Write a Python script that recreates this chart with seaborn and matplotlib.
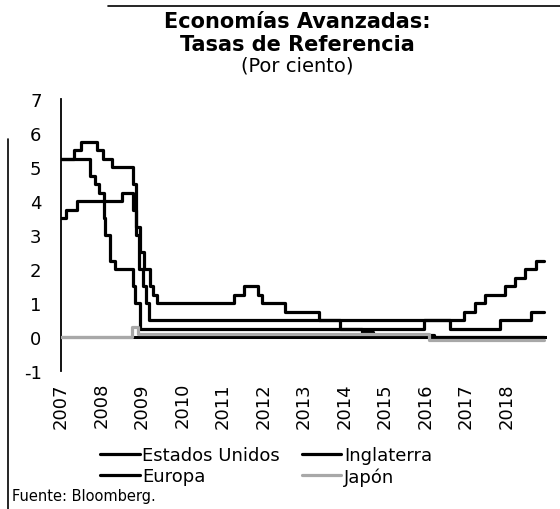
import numpy as np
import pandas as pd
import matplotlib
matplotlib.use('Agg')
import matplotlib.pyplot as plt
from matplotlib.lines import Line2D
import seaborn as sns

# =====================
# Data (step series, decimal years)
# =====================
fin = 2018.92

eu_t = [2007.0, 2007.71, 2007.83, 2007.95, 2008.06, 2008.08, 2008.21, 2008.33,
        2008.77, 2008.83, 2008.96, 2015.96, 2016.96, 2017.21, 2017.46, 2017.96,
        2018.22, 2018.46, 2018.74, fin]
eu_v = [5.25, 4.75, 4.5, 4.25, 3.5, 3.0, 2.25, 2.0,
        1.5, 1.0, 0.25, 0.5, 0.75, 1.0, 1.25, 1.5,
        1.75, 2.0, 2.25, 2.25]

ing_t = [2007.0, 2007.32, 2007.5, 2007.9, 2008.03, 2008.27, 2008.77, 2008.85,
         2008.93, 2009.03, 2009.1, 2009.18, 2016.6, 2017.84, 2018.6, fin]
ing_v = [5.25, 5.5, 5.75, 5.5, 5.25, 5.0, 4.5, 3.0,
         2.0, 1.5, 1.0, 0.5, 0.25, 0.5, 0.75, 0.75]

eur_t = [2007.0, 2007.12, 2007.4, 2008.5, 2008.78, 2008.85, 2008.94, 2009.05,
         2009.2, 2009.27, 2009.36, 2011.26, 2011.52, 2011.86, 2011.96, 2012.53,
         2013.37, 2013.89, 2014.43, 2014.7, 2016.2, fin]
eur_v = [3.5, 3.75, 4.0, 4.25, 3.75, 3.25, 2.5, 2.0,
         1.5, 1.25, 1.0, 1.25, 1.5, 1.25, 1.0, 0.75,
         0.5, 0.25, 0.15, 0.05, 0.0, 0.0]

jap_t = [2007.0, 2008.76, 2008.9, 2016.08, fin]
jap_v = [0.0, 0.3, 0.1, -0.1, -0.1]

years = list(range(2007, 2019))
yticks = list(range(-1, 8))

# =====================
# Figure
# =====================
sns.set_style('white')
plt.rcParams['font.family'] = ['DejaVu Sans']
plt.rcParams['text.color'] = 'black'
plt.rcParams['xtick.color'] = 'black'
plt.rcParams['ytick.color'] = 'black'
plt.rcParams['axes.labelcolor'] = 'black'

fig = plt.figure(figsize=(5.6, 5.1), dpi=100)
ax = fig.add_axes([61/560, 1 - 372/510, 486/560, 272/510])

ax.axhline(0, color='black', lw=2.2, zorder=1)

series = [
    ('Estados Unidos', eu_t, eu_v, 'black'),
    ('Inglaterra', ing_t, ing_v, 'black'),
    ('Europa', eur_t, eur_v, 'black'),
    ('Japón', jap_t, jap_v, '#a8a8a8'),
]
for name, t, v, c in series:
    sns.lineplot(x=t, y=v, ax=ax, color=c, lw=2.3, drawstyle='steps-post',
                 estimator=None, sort=False, zorder=3 if name == 'Japón' else 2)

ax.set_xlim(2007, 2019)
ax.set_ylim(-1, 7)
ax.set_xticks(years)
ax.set_xticklabels([str(y) for y in years], rotation=90, fontsize=13)
ax.set_yticks(yticks)
ax.set_yticklabels([str(y) for y in yticks], fontsize=13)
ax.tick_params(axis='y', direction='in', length=5, width=1.2, color='black', pad=14)
ax.tick_params(axis='x', length=0, pad=8)
for s in ['top', 'right', 'bottom']:
    ax.spines[s].set_visible(False)
ax.spines['left'].set_color('black')
ax.spines['left'].set_linewidth(1.3)
ax.set_xlabel('')
ax.set_ylabel('')

# Titles
fig.text(297/560, 1 - 22/510, 'Economías Avanzadas:', ha='center', va='center',
         fontsize=15, fontweight='bold')
fig.text(297/560, 1 - 45/510, 'Tasas de Referencia', ha='center', va='center',
         fontsize=15, fontweight='bold')
fig.text(297/560, 1 - 66/510, '(Por ciento)', ha='center', va='center', fontsize=14)

# Legend
h = [Line2D([], [], color='black', lw=2.3),
     Line2D([], [], color='black', lw=2.3),
     Line2D([], [], color='black', lw=2.3),
     Line2D([], [], color='#a8a8a8', lw=2.3)]
lab = ['Estados Unidos', 'Europa', 'Inglaterra', 'Japón']
fig.legend(h, lab, ncol=2, loc='center', bbox_to_anchor=(266/560, 1 - 467/510),
           frameon=False, fontsize=13, handlelength=2.2, handletextpad=0.15,
           columnspacing=1.2, labelspacing=0.15)

fig.text(12/560, 1 - 497/510, 'Fuente: Bloomberg.', ha='left', va='center', fontsize=10.5)

# scan frame lines
fig.add_artist(Line2D([108/560, 1.0], [1 - 7/510, 1 - 7/510], color='black', lw=1.2,
                      transform=fig.transFigure))
fig.add_artist(Line2D([8/560, 8/560], [0, 1 - 140/510], color='black', lw=1.2,
                      transform=fig.transFigure))

fig.savefig('out.png', dpi=100)
